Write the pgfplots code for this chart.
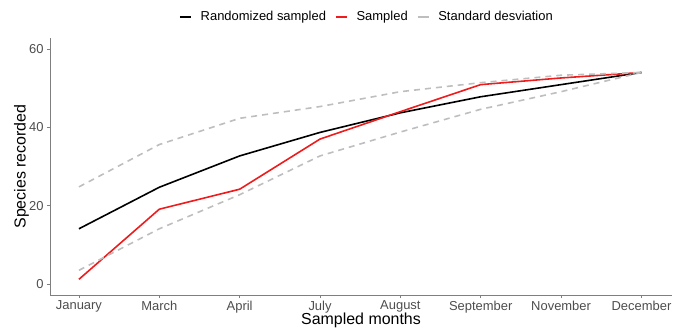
\documentclass[border=0pt]{standalone}
\usepackage{pgfplots}
\pgfplotsset{compat=1.18}
\usepackage{fontspec}
\setmainfont{Liberation Sans}
\definecolor{tickgrey}{HTML}{4D4D4D}
\definecolor{axgrey}{HTML}{7F7F7F}
\definecolor{sdgrey}{HTML}{BEBEBE}
\definecolor{rred}{HTML}{EE1C1C}
\begin{document}
\begin{tikzpicture}
\useasboundingbox (-50bp,-33bp) rectangle (623bp,295bp);
\begin{axis}[
  at={(0,0)}, anchor=south west,
  scale only axis, width=622bp, height=257bp,
  xmin=-0.36, xmax=7.38, ymin=-2.8, ymax=62.8,
  axis x line*=bottom, axis y line*=left,
  axis line style={axgrey, line width=0.9bp, -},
  xtick={0,...,7},
  xticklabels={January,March,April,July,August,September,November,December},
  ytick={0,20,40,60},
  tick style={axgrey, line width=0.8bp},
  tick align=outside, major tick length=3bp,
  ticklabel style={font=\fontsize{13}{15}\selectfont, text=tickgrey},
  xticklabel style={inner sep=2.5bp},
  /pgf/number format/assume math mode=true,
  xlabel={Sampled months}, ylabel={Species recorded},
  label style={font=\fontsize{16}{18}\selectfont},
  xlabel style={at={(axis description cs:0.5,-0.068)}, anchor=north, inner sep=0pt},
  ylabel style={at={(axis description cs:-0.046,0.5)}, anchor=center, rotate=0},
  legend columns=3,
  legend style={draw=none, fill=none, font=\fontsize{13}{15}\selectfont, at={(0.508,1.082)}, anchor=center,
    nodes={inner sep=0pt},
    /tikz/every even column/.append style={column sep=9bp},
    /tikz/every odd column/.append style={column sep=9bp}},
  legend image code/.code={\draw[#1, solid] (0bp,0bp) -- (11bp,0bp);},
]
\addplot[black, line width=1.6bp] coordinates {(0,14.1) (1,24.7) (2,32.7) (3,38.7) (4,43.7) (5,47.8) (6,50.9) (7,54)};
\addlegendentry{Randomized sampled}
\addplot[rred, line width=1.6bp] coordinates {(0,1.2) (1,19.1) (2,24.2) (3,37) (4,44) (5,50.9) (6,52.6) (7,54)};
\addlegendentry{Sampled}
\addplot[sdgrey, line width=1.6bp, dash pattern=on 6bp off 5bp] coordinates {(0,24.8) (1,35.6) (2,42.3) (3,45.3) (4,49.1) (5,51.4) (6,53.3) (7,54)};
\addlegendentry{Standard desviation}
\addplot[sdgrey, line width=1.6bp, dash pattern=on 6bp off 5bp, forget plot] coordinates {(0,3.5) (1,14.1) (2,22.8) (3,32.7) (4,38.8) (5,44.6) (6,49.1) (7,54)};
\end{axis}
\end{tikzpicture}
\end{document}
